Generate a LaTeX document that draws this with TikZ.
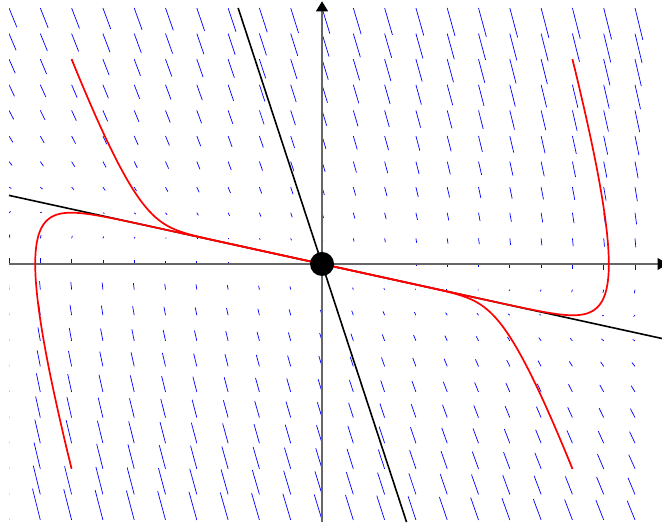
\documentclass[tikz,border=0pt]{standalone}
\usetikzlibrary{arrows.meta}
\begin{document}
\begin{tikzpicture}[x=62.6pt,y=51.2pt,
  fieldseg/.style={draw={rgb,255:red,0;green,0;blue,255}, line width=0.7pt},
  axisline/.style={draw=black!60, line width=1.1pt, -{Triangle[length=10pt,width=12pt,color=black]}},
  eigenline/.style={draw=black, line width=1.6pt},
  trajectory/.style={draw=red, line width=1.7pt},
  equil/.style={circle, fill=black, minimum size=24pt, inner sep=0pt}]
\useasboundingbox (-5.144,-5.176) rectangle (5.431,5.156);
% direction field of x' = y, y' = -x - 4y
\begin{scope}
\clip (-5,-5.3) rectangle (5.6,5.3);
\foreach \x in {-5,-4.5,...,5.01}{
  \foreach \y in {-5,-4.5,...,5.01}{
    \draw[fieldseg] (\x,\y) -- ++({0.025*(\y)},{0.025*(-(\x)-4*(\y))});
  }
}
\end{scope}
% axes
\coordinate (xl) at (-5,0);
\coordinate (xr) at (5.52,0);
\coordinate (yb) at (0,-5.04);
\coordinate (yt) at (0,5.13);
\draw[axisline] (xl) -- (xr);
\draw[axisline] (yb) -- (yt);
% eigenlines
\coordinate (fa) at (-1.3397,5);
\coordinate (fb) at (1.3504,-5.04);
\coordinate (sa) at (-5,1.3397);
\coordinate (sb) at (5.6,-1.5005);
\draw[eigenline] (fa) -- (fb);
\draw[eigenline] (sa) -- (sb);
% trajectories
\coordinate (O) at (0,0);
\def\la{-3.7320508}
\def\lb{-0.2679492}
\foreach \a/\b in {-0.845299/-3.154701, 1.464102/-5.464102, -1.464102/5.464102, 0.845299/3.154701}{
  \draw[trajectory] plot[domain=0:3.2, samples=160, variable=\t, smooth]
    ({(\a)*exp((\la)*\t)+(\b)*exp((\lb)*\t)},
     {(\a)*(\la)*exp((\la)*\t)+(\b)*(\lb)*exp((\lb)*\t)}) -- (O);
}
\node[equil] (eq) at (O) {};
\end{tikzpicture}
\end{document}
